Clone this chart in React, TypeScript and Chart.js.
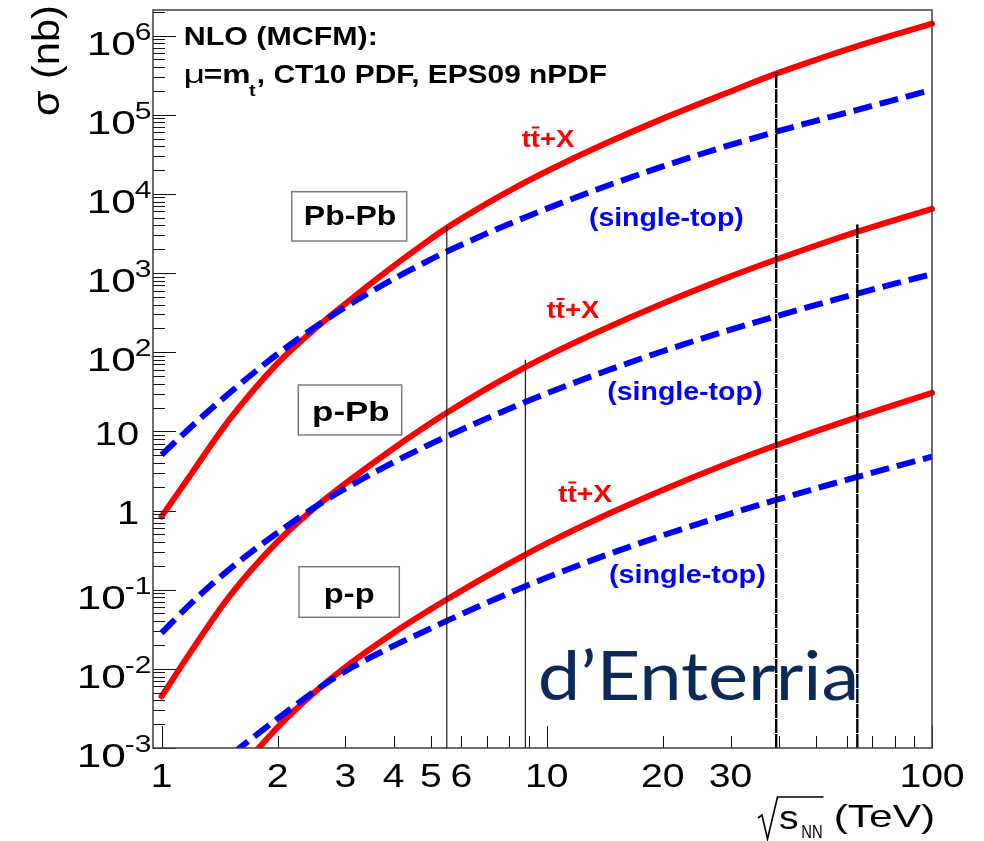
import React, { useEffect, useRef } from "react";
import { Chart, registerables } from "chart.js";

Chart.register(...registerables);

// Centre-of-mass energy per nucleon pair (TeV)
const ENERGY_TEV = [1, 1.2, 1.5, 2, 2.5, 3, 4, 5, 5.5, 7, 8.8, 10, 14, 20, 30, 39.4, 50, 64, 80, 100];

// Cross sections (nb), NLO MCFM
const PBPB_TTBAR = [0.84, 3.006, 14.03, 72.3, 197, 409, 1222, 2698, 3715, 7568, 14030, 19320, 41880, 89130, 196300, 329600, 494300, 734500, 1026000, 1409000];
const PBPB_SINGLE_TOP = [5.05, 11.7, 30.5, 94.8, 207, 371, 841, 1486, 1866, 3170, 5070, 6500, 12100, 22180, 41590, 60950, 83750, 115300, 154200, 206100];
const PPB_TTBAR = [0.00449, 0.01734, 0.0822, 0.4036, 1.084, 2.193, 6.08, 12.71, 17.14, 34.9, 64.7, 89.1, 193, 411, 906, 1479, 2228, 3327, 4667, 6442];
const PPB_SINGLE_TOP = [0.0283, 0.0692, 0.1807, 0.5236, 1.107, 1.897, 4.064, 6.95, 8.63, 14.59, 23.5, 30.2, 56.1, 102.8, 192.8, 284.4, 395.4, 549.5, 732.8, 970.5];
const PP_TTBAR = [null, null, 0.000374, 0.00182, 0.00508, 0.01054, 0.02844, 0.05675, 0.07516, 0.1493, 0.2767, 0.3837, 0.8453, 1.82, 4.064, 6.668, 10.05, 15.1, 21.58, 30.55];
const PP_SINGLE_TOP = [null, 0.000308, 0.000785, 0.002344, 0.00525, 0.00933, 0.0195, 0.03243, 0.04036, 0.06855, 0.1104, 0.1422, 0.2649, 0.4853, 0.9141, 1.361, 1.901, 2.661, 3.581, 4.786];

// Collider energies marked by vertical lines, and the cross section each line reaches
const MARKER_ENERGY = [5.5, 8.8, 39.4, 64];
const MARKER_TOP = [3900, 80, 345000, 4100];

// Axis ranges and labels
const X_MIN = 0.95;
const X_MAX = 100;
const Y_MIN = 1e-3;
const Y_MAX = 2.1e6;
const X_TICK_LABELS = [1, 2, 3, 4, 5, 6, 10, 20, 30, 100];
const Y_DECADES = [-3, -2, -1, 0, 1, 2, 3, 4, 5, 6];

const SYSTEMS = ["Pb-Pb", "p-Pb", "p-p"];

const FONT = '"Liberation Sans", Arial, Helvetica, sans-serif';
const RED = "#ff0000";
const BLUE = "#0000ff";

function toPoints(values: (number | null)[]) {
  const pts: { x: number; y: number }[] = [];
  values.forEach((v, i) => {
    if (v !== null) pts.push({ x: ENERGY_TEV[i], y: v });
  });
  return pts;
}

function drawStretched(ctx: CanvasRenderingContext2D, text: string, x: number, y: number, sx: number, align: string) {
  const w = ctx.measureText(text).width * sx;
  const left = align === "left" ? x : align === "right" ? x - w : x - w / 2;
  ctx.save();
  ctx.translate(left, y);
  ctx.scale(sx, 1);
  ctx.textAlign = "left";
  ctx.fillText(text, 0, 0);
  ctx.restore();
  return { left, width: w };
}

// Draws text so that its ink spans [left, right] horizontally
function fitInk(ctx: CanvasRenderingContext2D, text: string, left: number, right: number, baseline: number) {
  const m = ctx.measureText(text);
  const ink = m.actualBoundingBoxLeft + m.actualBoundingBoxRight;
  const sx = (right - left) / ink;
  ctx.save();
  ctx.translate(left, baseline);
  ctx.scale(sx, 1);
  ctx.textAlign = "left";
  ctx.fillText(text, m.actualBoundingBoxLeft, 0);
  ctx.restore();
  return { sx, originX: left + m.actualBoundingBoxLeft * sx };
}

function drawTTbar(ctx: CanvasRenderingContext2D, left: number, right: number, baseline: number) {
  ctx.font = `bold 23px ${FONT}`;
  ctx.fillStyle = RED;
  const { sx, originX } = fitInk(ctx, "tt+X", left, right, baseline);
  const tw = ctx.measureText("t").width * sx;
  ctx.fillRect(originX + tw + 1, baseline - 20, tw - 1.5, 2);
}

function drawSingleTop(ctx: CanvasRenderingContext2D, left: number, right: number, baseline: number) {
  ctx.font = `bold 26px ${FONT}`;
  ctx.fillStyle = BLUE;
  fitInk(ctx, "(single-top)", left, right, baseline);
}

function drawSystemBox(ctx: CanvasRenderingContext2D, label: string, box: number[], ink: number[]) {
  const [x0, y0, x1, y1] = box;
  ctx.fillStyle = "#ffffff";
  ctx.fillRect(x0, y0, x1 - x0, y1 - y0);
  ctx.strokeStyle = "#7d7d7d";
  ctx.lineWidth = 1.5;
  ctx.strokeRect(x0, y0, x1 - x0, y1 - y0);
  ctx.font = `bold 28px ${FONT}`;
  ctx.fillStyle = "#000";
  fitInk(ctx, label, ink[0], ink[1], ink[2]);
}

const rootStyle = {
  id: "rootStyle",
  beforeDraw(chart: any) {
    const ctx = chart.ctx;
    ctx.save();
    ctx.fillStyle = "#ffffff";
    ctx.fillRect(0, 0, chart.width, chart.height);
    ctx.restore();
  },
  afterDraw(chart: any) {
    const ctx: CanvasRenderingContext2D = chart.ctx;
    const a = chart.chartArea;
    const xs = chart.scales.x;
    const ys = chart.scales.y;
    ctx.save();
    ctx.textBaseline = "alphabetic";

    // tick marks drawn inside the frame
    ctx.strokeStyle = "#111";
    ctx.lineWidth = 1;
    for (let d = -3; d <= 6; d++) {
      for (let m = 1; m <= 9; m++) {
        const v = m * Math.pow(10, d);
        if (v < Y_MIN * 0.999 || v > Y_MAX) continue;
        const py = Math.round(ys.getPixelForValue(v)) + 0.5;
        const len = m === 1 ? 23 : 12;
        ctx.beginPath();
        ctx.moveTo(a.left, py);
        ctx.lineTo(a.left + len, py);
        ctx.stroke();
      }
    }
    for (let d = 0; d <= 2; d++) {
      for (let m = 1; m <= 9; m++) {
        const v = m * Math.pow(10, d);
        if (v > X_MAX * 1.001) continue;
        const px = Math.round(xs.getPixelForValue(v)) + 0.5;
        const len = m === 1 ? 22 : 12;
        ctx.beginPath();
        ctx.moveTo(px, a.bottom);
        ctx.lineTo(px, a.bottom - len);
        ctx.stroke();
      }
    }

    // frame
    ctx.strokeStyle = "#3c3c3c";
    ctx.lineWidth = 1.5;
    ctx.strokeRect(a.left, a.top, a.right - a.left, a.bottom - a.top);

    // y tick labels
    ctx.fillStyle = "#000";
    Y_DECADES.forEach((d) => {
      const py = ys.getPixelForValue(Math.pow(10, d));
      if (d === 0 || d === 1) {
        ctx.font = `34px ${FONT}`;
        drawStretched(ctx, d === 0 ? "1" : "10", a.left - 14, py + 13.5, 1.17, "right");
      } else {
        ctx.font = `24px ${FONT}`;
        const ex = drawStretched(ctx, String(d), a.left - 1.5, py + 4, 1.25, "right");
        ctx.font = `34px ${FONT}`;
        drawStretched(ctx, "10", ex.left + 1, py + 19, 1.3, "right");
      }
    });

    // x tick labels
    ctx.font = `34px ${FONT}`;
    X_TICK_LABELS.forEach((v) => {
      const px = xs.getPixelForValue(v);
      drawStretched(ctx, String(v), px, 787, 1.15, "center");
    });

    // x title: sqrt(s_NN) (TeV)
    ctx.strokeStyle = "#000";
    ctx.lineWidth = 1.6;
    ctx.beginPath();
    ctx.moveTo(758, 818);
    ctx.lineTo(762, 815);
    ctx.lineTo(767.5, 839);
    ctx.lineTo(777.5, 797);
    ctx.lineTo(823.5, 797);
    ctx.stroke();
    ctx.font = `33px ${FONT}`;
    fitInk(ctx, "s", 779, 798, 829);
    ctx.font = `19px ${FONT}`;
    fitInk(ctx, "NN", 802, 822, 838);
    ctx.font = `32px ${FONT}`;
    fitInk(ctx, "(TeV)", 835, 933, 827);

    // y title: sigma (nb), rotated
    ctx.save();
    ctx.translate(59, 115);
    ctx.rotate(-Math.PI / 2);
    ctx.font = `38px ${FONT}`;
    fitInk(ctx, "σ (nb)", 0, 108, 0);
    ctx.restore();

    // calculation header
    ctx.fillStyle = "#000";
    ctx.font = `bold 25px ${FONT}`;
    fitInk(ctx, "NLO (MCFM):", 185, 375, 45);
    ctx.font = `25px ${FONT}`;
    fitInk(ctx, "μ", 185, 203, 83);
    ctx.font = `bold 25px ${FONT}`;
    fitInk(ctx, "=m", 205, 249, 83);
    ctx.font = `bold 17px ${FONT}`;
    fitInk(ctx, "t", 249, 256, 96);
    ctx.font = `bold 25px ${FONT}`;
    fitInk(ctx, ", CT10 PDF, EPS09 nPDF", 258, 606.7, 83);

    // collision system boxes
    drawSystemBox(ctx, SYSTEMS[0], [291.7, 191.7, 406.7, 241], [305, 395, 225]);
    drawSystemBox(ctx, SYSTEMS[1], [298.3, 385, 401.7, 435], [313.3, 388.3, 420.5]);
    drawSystemBox(ctx, SYSTEMS[2], [299, 566.7, 399.3, 617.3], [325, 373.3, 603]);

    // process labels
    drawTTbar(ctx, 521.7, 575, 146.5);
    drawTTbar(ctx, 546.7, 600, 318);
    drawTTbar(ctx, 558, 613, 501.5);
    drawSingleTop(ctx, 590, 743, 226.4);
    drawSingleTop(ctx, 608.3, 761.7, 399.7);
    drawSingleTop(ctx, 610, 765, 583);

    // author tag
    ctx.fillStyle = "#0b2a5a";
    ctx.font = `68px Lato, "Open Sans", sans-serif`;
    fitInk(ctx, "d’Enterria", 540, 855, 700);

    ctx.restore();
  },
};

export default function App() {
  const canvasRef = useRef<HTMLCanvasElement | null>(null);

  useEffect(() => {
    document.body.style.margin = "0";
    const canvas = canvasRef.current;
    if (!canvas) return;

    const clip = { left: 4, top: 0, right: 6, bottom: 0 };
    const curve = (values: (number | null)[], color: string, dashed: boolean) => ({
      data: toPoints(values),
      borderColor: color,
      borderWidth: 6,
      borderDash: dashed ? [19, 8] : [],
      borderCapStyle: dashed ? "butt" : "round",
      borderJoinStyle: "round",
      cubicInterpolationMode: "monotone",
      pointRadius: 0,
      fill: false,
      clip,
    });

    const markers = MARKER_ENERGY.map((e, i) => ({
      data: [
        { x: e, y: Y_MIN },
        { x: e, y: MARKER_TOP[i] },
      ],
      borderColor: i < 2 ? "#1a1a1a" : "#000000",
      borderWidth: i < 2 ? 1.2 : 2.4,
      borderDash: i < 2 ? [] : [14, 1],
      pointRadius: 0,
      fill: false,
      clip: 0,
    }));

    const chart = new Chart(canvas, {
      type: "line",
      data: {
        datasets: [
          ...markers,
          curve(PBPB_SINGLE_TOP, BLUE, true),
          curve(PPB_SINGLE_TOP, BLUE, true),
          curve(PP_SINGLE_TOP, BLUE, true),
          curve(PBPB_TTBAR, RED, false),
          curve(PPB_TTBAR, RED, false),
          curve(PP_TTBAR, RED, false),
        ] as any,
      },
      options: {
        animation: false,
        responsive: true,
        maintainAspectRatio: false,
        layout: { padding: { left: 153, top: 10, right: 52, bottom: 93 } },
        scales: {
          x: { type: "logarithmic", min: X_MIN, max: X_MAX, display: false },
          y: { type: "logarithmic", min: Y_MIN, max: Y_MAX, display: false },
        },
        plugins: {
          legend: { display: false },
          tooltip: { enabled: false },
        },
        elements: { point: { radius: 0 } },
      },
      plugins: [rootStyle],
    } as any);

    return () => chart.destroy();
  }, []);

  return (
    <div style={{ width: 984, height: 841, position: "relative", overflow: "hidden", background: "#fff" }}>
      <canvas ref={canvasRef} />
    </div>
  );
}
